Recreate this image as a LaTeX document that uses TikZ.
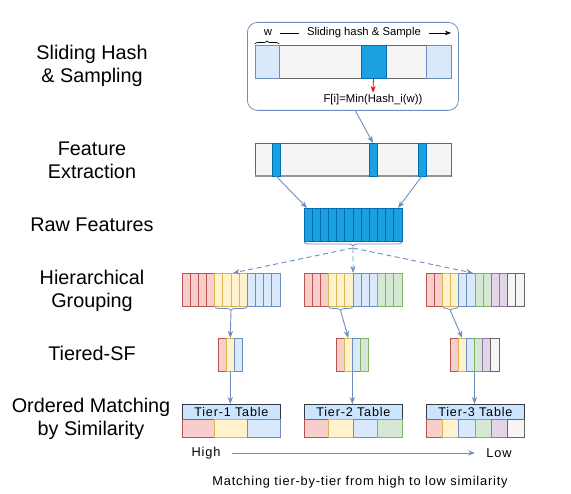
\documentclass[tikz,border=0pt]{standalone}
\usepackage{fontspec}
\setmainfont{Liberation Sans}
\newfontfamily\widesans[LetterSpace=6.5]{Liberation Sans}
\usetikzlibrary{arrows.meta, positioning, decorations.pathreplacing, calc}

\definecolor{lblue}{HTML}{DAE8FC}
\definecolor{lblueline}{HTML}{6C8EBF}
\definecolor{dblue}{HTML}{1BA1E2}
\definecolor{dblueline}{HTML}{006EAF}
\definecolor{lred}{HTML}{F8CECC}
\definecolor{lredline}{HTML}{B85450}
\definecolor{lyel}{HTML}{FFF2CC}
\definecolor{lyelline}{HTML}{D6B656}
\definecolor{lgreen}{HTML}{D5E8D4}
\definecolor{lgreenline}{HTML}{82B366}
\definecolor{lpurple}{HTML}{E1D5E7}
\definecolor{lpurpleline}{HTML}{9673A6}
\definecolor{lgray}{HTML}{F5F5F5}
\definecolor{lgrayline}{HTML}{666666}
\definecolor{headfill}{HTML}{CCE5FF}
\definecolor{headline}{HTML}{36393D}

\begin{document}
\begin{tikzpicture}[x=1pt,y=-1pt,>=Stealth,
    cell/.style={draw=#1line, fill=#1, line width=0.8pt, minimum height=33pt,
      inner sep=0pt, outer sep=0pt, anchor=north west},
    link/.style={->, draw=lblueline, line width=0.9pt},
    dlink/.style={link, dash pattern=on 5pt off 3.5pt},
    bracedeco/.style={draw=lblueline, line width=0.8pt, decorate},
    steplab/.style={font=\fontsize{19.8}{23}\selectfont, align=center},
    smalltext/.style={font=\fontsize{11.3}{13}\selectfont, inner sep=2pt},
    bottomtext/.style={font=\widesans\fontsize{12.8}{15}\selectfont},
    tierhead/.style={draw=headline, fill=headfill, line width=0.8pt, minimum width=98pt,
      minimum height=15pt, inner sep=0pt, anchor=north west,
      font=\widesans\fontsize{12.6}{14}\selectfont}]
    \useasboundingbox (0,0) rectangle (571,494);

    % step labels
    \node[steplab] (lab1) at (92,66) {Sliding Hash\\\& Sampling};
    \node[steplab] (lab2) at (92,160) {Feature\\Extraction};
    \node[steplab] (lab3) at (92,225) {Raw Features};
    \node[steplab] (lab4) at (92,290.5) {Hierarchical\\Grouping};
    \node[steplab] (lab5) at (92,353) {Tiered-SF};
    \node[steplab] (lab6) at (91,418.5) {Ordered Matching\\by Similarity};

    % sliding hash box
    \node[draw=lblueline, rounded corners=10pt, line width=0.8pt, minimum width=211pt,
          minimum height=88pt, anchor=north west] (hashbox) at (247,22) {};
    \node[cell=lgray, minimum width=196pt] (hstrip) at (255,45) {};
    \node[cell=lblue, minimum width=24pt] (hc1) at (255,45) {};
    \node[cell=dblue, minimum width=25pt] (hc2) at (361,45) {};
    \node[cell=lblue, minimum width=25pt] (hc3) at (426,45) {};

    \node[smalltext] (wlab) at (268,33) {w};
    \node[smalltext] (slidelab) at (364,33) {Sliding hash \& Sample};
    \draw[decorate, decoration={brace, amplitude=3pt, raise=1pt}, line width=0.7pt]
      (hc1.north west) -- (hc1.north east);
    \draw[line width=0.7pt] ([xshift=6pt]wlab.east) -- ([xshift=-6pt]slidelab.west);
    \draw[->, line width=0.7pt] ([xshift=6pt]slidelab.east) -- (slidelab.east -| hc3.north east);

    \node[smalltext] (formula) at (373,100) {F[i]=Min(Hash\_i(w))};
    \draw[->, red, line width=0.8pt] (hc2.south) -- (formula.north);

    % feature extraction
    \node[cell=lgray, minimum width=196pt] (fstrip) at (255,143) {};
    \draw[lgrayline!70, line width=1.4pt] (fstrip.south west) -- (fstrip.south east);
    \node[cell=dblue, minimum width=8pt] (fc1) at (272,143) {};
    \node[cell=dblue, minimum width=8pt] (fc2) at (369,143) {};
    \node[cell=dblue, minimum width=8pt] (fc3) at (418,143) {};
    \draw[link] ([xshift=2.5pt]hashbox.south) -- (fc2.north);

    % raw features
    \node[cell=dblue, minimum width=98pt] (raw) at (304,208) {};
    \foreach \i in {0,...,11}
      \node[cell=dblue, minimum width=8.17pt] (rc\i) at ({304+8.1667*\i},208) {};
    \draw[link] (fc1.south) -- ([xshift=3pt]raw.north west);
    \draw[link] (fc3.south) -- ([xshift=-4pt]raw.north east);
    \draw[bracedeco, decoration={brace, mirror, amplitude=4pt, raise=1pt}]
      (raw.south west) -- (raw.south east);
    \coordinate (rawtip) at ($(raw.south)+(0,7)$);

    % hierarchical grouping
    \foreach \cc [count=\i from 0] in {lred,lred,lred,lred,lyel,lyel,lyel,lyel,lblue,lblue,lblue,lblue}
      \node[cell=\cc, minimum width=8.17pt] (ga\i) at ({182+8.1667*\i},273) {};
    \foreach \cc [count=\i from 0] in {lred,lred,lred,lyel,lyel,lyel,lblue,lblue,lblue,lgreen,lgreen,lgreen}
      \node[cell=\cc, minimum width=8.17pt] (gb\i) at ({304+8.1667*\i},273) {};
    \foreach \cc [count=\i from 0] in {lred,lred,lyel,lyel,lblue,lblue,lgreen,lgreen,lpurple,lpurple,lgray,lgray}
      \node[cell=\cc, minimum width=8.17pt] (gc\i) at ({426+8.1667*\i},273) {};

    \draw[dlink] (rawtip) -- ([xshift=2pt]ga6.north west);
    \draw[dlink] (rawtip) -- (gb6.north west);
    \draw[dlink] (rawtip) -- ([xshift=-2pt]gc6.north west);

    \draw[bracedeco, decoration={brace, mirror, amplitude=4pt, raise=0.5pt}]
      (ga4.south west) -- (ga7.south east);
    \draw[bracedeco, decoration={brace, mirror, amplitude=4pt, raise=0.5pt}]
      (gb3.south west) -- (gb5.south east);
    \draw[bracedeco, decoration={brace, mirror, amplitude=4pt, raise=0.5pt}]
      (gc2.south west) -- (gc3.south east);
    \coordinate (gatip) at ($(ga4.south west)!0.5!(ga7.south east)+(0,5)$);
    \coordinate (gbtip) at ($(gb3.south west)!0.5!(gb5.south east)+(0,5)$);
    \coordinate (gctip) at ($(gc2.south west)!0.5!(gc3.south east)+(0,5)$);

    % tiered SF
    \foreach \cc [count=\i from 0] in {lred,lyel,lblue}
      \node[cell=\cc, minimum width=8.17pt] (sa\i) at ({218+8.1667*\i},338) {};
    \foreach \cc [count=\i from 0] in {lred,lyel,lblue,lgreen}
      \node[cell=\cc, minimum width=8.17pt] (sb\i) at ({336+8.1667*\i},338) {};
    \foreach \cc [count=\i from 0] in {lred,lyel,lblue,lgreen,lpurple,lgray}
      \node[cell=\cc, minimum width=8.17pt] (sc\i) at ({450+8.1667*\i},338) {};

    \draw[link] (gatip) -- (sa1.north);
    \draw[link] (gbtip) -- (sb1.north);
    \draw[link] (gctip) -- (sc1.north);

    % tier tables
    \node[tierhead] (ta) at (182,404) {Tier-1 Table};
    \node[tierhead] (tb) at (304,404) {Tier-2 Table};
    \node[tierhead] (tc) at (426,404) {Tier-3 Table};
    \foreach \cc [count=\i from 0] in {lred,lyel,lblue}
      \node[cell=\cc, minimum width=32.67pt, minimum height=18pt] (tar\i) at ({182+32.667*\i},419) {};
    \foreach \cc [count=\i from 0] in {lred,lyel,lblue,lgreen}
      \node[cell=\cc, minimum width=24.5pt, minimum height=18pt] (tbr\i) at ({304+24.5*\i},419) {};
    \foreach \cc [count=\i from 0] in {lred,lyel,lblue,lgreen,lpurple,lgray}
      \node[cell=\cc, minimum width=16.33pt, minimum height=18pt] (tcr\i) at ({426+16.333*\i},419) {};

    \draw[link] (sa1.south) -- (sa1.south |- ta.north);
    \draw[link] (sb1.south east) -- (sb1.south east |- tb.north);
    \draw[link] (sc2.south east) -- (sc2.south east |- tc.north);

    % similarity order
    \node[bottomtext] (high) at (206,453) {High};
    \node[bottomtext] (low) at (499,453) {Low};
    \draw[->, draw=lblueline, line width=0.8pt, shorten <=8pt, shorten >=8pt] (high.east) -- (low.west);
    \node[bottomtext] (caption) at (360,482)
      {Matching tier-by-tier from high to low similarity};
  \end{tikzpicture}
\end{document}
